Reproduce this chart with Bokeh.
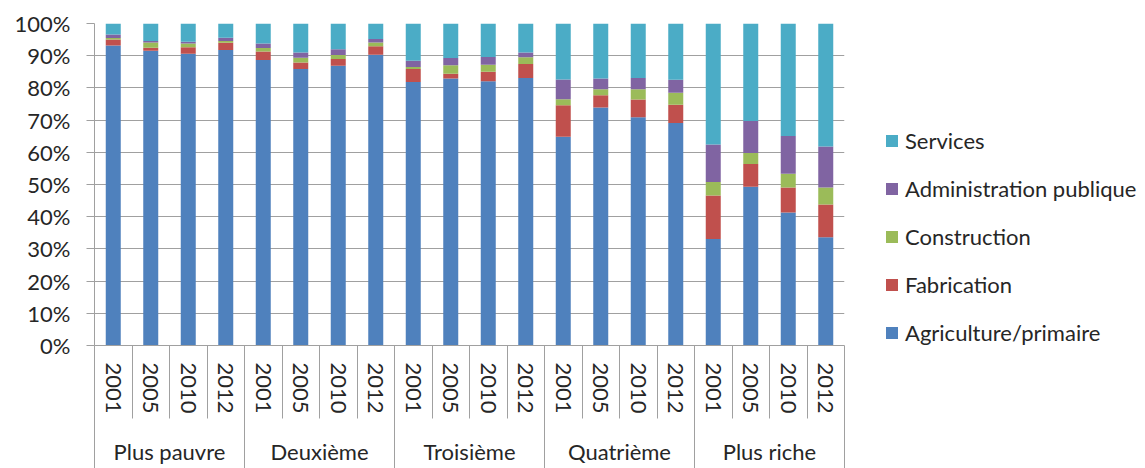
from bokeh.plotting import figure
from bokeh.models import (LinearAxis, FixedTicker, Range1d, Legend, LegendItem,
                          PrintfTickFormatter, ColumnDataSource)
from bokeh.embed import file_html
from bokeh.resources import INLINE

groups = ["Plus pauvre", "Deuxième", "Troisième", "Quatrième", "Plus riche"]
years = ["2001", "2005", "2010", "2012"]
sectors = ["Agriculture/primaire", "Fabrication", "Construction",
           "Administration publique", "Services"]
colors = ["#4F81BD", "#C0504D", "#9BBB59", "#8064A2", "#4BACC6"]

# shares (%) per bar, order: groups x years
agriculture = [93.2, 91.5, 90.6, 91.8, 88.7, 85.9, 86.9, 90.3, 81.8, 82.9,
               82.1, 83.1, 64.8, 73.9, 70.9, 69.1, 33.1, 49.3, 41.3, 33.6]
fabrication = [1.8, 1.0, 2.0, 2.2, 2.6, 2.0, 2.1, 2.6, 4.1, 1.5,
               2.9, 4.3, 9.8, 3.8, 5.5, 5.7, 13.5, 7.1, 7.8, 10.2]
construction = [0.5, 1.6, 1.2, 0.6, 1.1, 1.5, 1.2, 1.2, 0.6, 2.6,
                2.2, 2.1, 1.9, 1.9, 3.2, 3.7, 4.2, 3.4, 4.2, 5.3]
administration = [1.1, 0.5, 0.5, 1.0, 1.4, 1.6, 1.8, 1.1, 1.9, 2.3,
                  2.4, 1.5, 6.1, 3.3, 3.5, 4.0, 11.6, 9.9, 11.8, 12.7]
services = [3.4, 5.4, 5.7, 4.4, 6.2, 9.0, 8.0, 4.8, 11.6, 10.7,
            10.4, 9.0, 17.4, 17.1, 16.9, 17.5, 37.6, 30.3, 34.9, 38.2]

n_bars = len(groups) * len(years)
xs = [i + 0.5 for i in range(n_bars)]
data = dict(x=xs)
for name, vals in zip(sectors, [agriculture, fabrication, construction,
                                administration, services]):
    data[name] = vals
src = ColumnDataSource(data)

FONT = "Lato"
GRAY = "#A0A0A0"
TXT = "#262626"

p = figure(frame_width=750, frame_height=322, output_backend="svg",
           toolbar_location=None, x_axis_type=None,
           x_range=Range1d(0, n_bars), y_range=Range1d(0, 100),
           min_border_left=94, min_border_top=23, min_border_bottom=123,
           min_border_right=0, outline_line_color=None)

rs = p.vbar_stack(sectors, x="x", width=0.4, source=src, color=colors,
                  line_color=None)

# y axis
ya = p.yaxis[0]
ya.ticker = FixedTicker(ticks=list(range(0, 101, 10)))
ya.formatter = PrintfTickFormatter(format="%d%%")
ya.axis_line_color = GRAY
ya.major_tick_line_color = GRAY
ya.major_tick_out = 8
ya.major_tick_in = 0
ya.minor_tick_line_color = None
ya.major_label_standoff = 16
ya.major_label_text_font = FONT
ya.major_label_text_font_size = "22px"
ya.major_label_text_color = TXT
p.ygrid.grid_line_color = GRAY
p.ygrid.ticker = FixedTicker(ticks=list(range(0, 101, 10)))
p.xgrid.grid_line_color = None

# year axis
year_over = {}
for gi, g in enumerate(groups):
    for yi, y in enumerate(years):
        year_over[xs[gi * len(years) + yi]] = y
year_axis = LinearAxis(
    ticker=FixedTicker(ticks=xs, minor_ticks=list(range(0, n_bars + 1))),
    major_label_overrides=year_over,
    major_label_orientation="vertical",
    major_tick_out=0, major_tick_in=0,
    minor_tick_out=0, minor_tick_in=-73,
    minor_tick_line_color=GRAY,
    axis_line_color=GRAY,
    major_label_standoff=17,
    major_label_text_font=FONT,
    major_label_text_font_size="22px",
    major_label_text_color=TXT)
p.add_layout(year_axis, "below")

# group axis
gcent = [len(years) * gi + len(years) / 2 for gi in range(len(groups))]
gbounds = [len(years) * gi for gi in range(len(groups) + 1)]
group_axis = LinearAxis(
    ticker=FixedTicker(ticks=gcent, minor_ticks=gbounds),
    major_label_overrides={c: g for c, g in zip(gcent, groups)},
    major_tick_out=0, major_tick_in=0,
    minor_tick_out=0, minor_tick_in=-60,
    minor_tick_line_color=GRAY,
    axis_line_color=None,
    major_label_standoff=21,
    major_label_text_font=FONT,
    major_label_text_font_size="22px",
    major_label_text_color=TXT)
p.add_layout(group_axis, "below")

items = [LegendItem(label=s, renderers=[r]) for s, r in zip(sectors, rs)][::-1]
legend = Legend(items=items, location=(40, -1), orientation="vertical",
                border_line_color=None, background_fill_alpha=0,
                padding=0, margin=0, spacing=21,
                glyph_width=15, glyph_height=15, label_standoff=6,
                label_text_font=FONT, label_text_font_size="22px",
                label_text_color=TXT)
p.add_layout(legend, "right")

open("out.html", "w").write(file_html(p, INLINE))
